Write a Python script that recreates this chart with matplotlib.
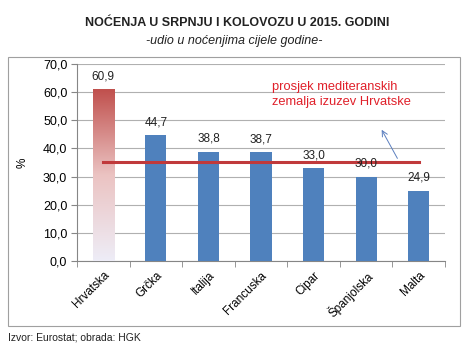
import numpy as np
import matplotlib
matplotlib.use("Agg")
import matplotlib.pyplot as plt
from matplotlib.colors import LinearSegmentedColormap
from matplotlib.patches import Rectangle

plt.rcParams['font.family'] = ['Liberation Sans', 'DejaVu Sans']

countries = ['Hrvatska', 'Grčka', 'Italija', 'Francuska', 'Cipar', 'Španjolska', 'Malta']
values = [60.9, 44.7, 38.8, 38.7, 33.0, 30.0, 24.9]
average = 35.3
yticks = [0, 10, 20, 30, 40, 50, 60, 70]

blue = '#4F81BD'
red = '#C0504D'

fig = plt.figure(figsize=(4.73, 3.54), dpi=100)
fig.patch.set_facecolor('white')

# chart frame
fig.patches.append(Rectangle((8 / 473, 1 - 326 / 354), 452 / 473, 269 / 354,
                             transform=fig.transFigure, fill=False,
                             edgecolor='#A0A0A0', linewidth=0.8))

ax = fig.add_axes([0.1628, 0.2627, 0.778, 0.5565])
x = np.arange(len(countries))
w = 0.4

bars = ax.bar(x, values, width=w, color=blue, zorder=3)

# gradient for Croatia
bars[0].set_facecolor('none')
cmap = LinearSegmentedColormap.from_list('grad', ['#EEEDF7', '#EBC3C2', red])
grad = np.linspace(0, 1, 256).reshape(-1, 1)
ax.imshow(grad, cmap=cmap, origin='lower', aspect='auto', zorder=3,
          extent=[x[0] - w / 2, x[0] + w / 2, 0, values[0]])

for xi, v in zip(x, values):
    ax.annotate(f'{v:.1f}'.replace('.', ','), (xi, v), xytext=(0, 5),
                textcoords='offset points', ha='center', va='bottom',
                fontsize=8.5, color='#222222', zorder=5)

# average line
ax.plot([x[0], x[-1]], [average, average], color='#C0393B', linewidth=2.2, zorder=4)

ax.text(3.2, 63.8, 'prosjek mediteranskih\nzemalja izuzev Hrvatske', color='#E0202A',
        fontsize=9.3, ha='left', va='top', linespacing=1.3, zorder=5)
ax.annotate('', xy=(5.27, 47.5), xytext=(5.62, 35.6),
            arrowprops=dict(arrowstyle='->', color='#5B7FBF', lw=0.7), zorder=5)

ax.set_xlim(-0.5, len(countries) - 0.5)
ax.set_ylim(0, 70)
ax.set_yticks(yticks)
ax.set_yticklabels([f'{t:.1f}'.replace('.', ',') for t in yticks], fontsize=9)
ax.yaxis.grid(True, color='#B0B0B0', linewidth=0.8, zorder=0)
ax.set_axisbelow(True)

ax.set_xticks(x)
ax.set_xticklabels(countries, rotation=45, ha='right', rotation_mode='anchor', fontsize=8.5)
ax.set_xticks(np.arange(-0.5, len(countries)), minor=True)
ax.tick_params(axis='x', which='major', length=0, pad=6)
ax.tick_params(axis='x', which='minor', length=4, color='#868686', direction='out')
ax.tick_params(axis='y', length=4, color='#868686', direction='out', pad=3)

for s in ['top', 'right']:
    ax.spines[s].set_visible(False)
ax.spines['left'].set_color('#868686')
ax.spines['bottom'].set_color('#868686')

ax.set_ylabel('%', fontsize=8.5, labelpad=10)

fig.text(237 / 473, 1 - 23 / 354, 'NOĆENJA U SRPNJU I KOLOVOZU U 2015. GODINI',
         ha='center', va='center', fontsize=9, fontweight='bold', color='#222222')
fig.text(234 / 473, 1 - 41 / 354, '-udio u noćenjima cijele godine-',
         ha='center', va='center', fontsize=9, style='italic', color='#222222')
fig.text(8 / 473, 1 - 338 / 354, 'Izvor: Eurostat; obrada: HGK',
         ha='left', va='center', fontsize=7.5, color='#222222')

fig.savefig('out.png', dpi=100)
